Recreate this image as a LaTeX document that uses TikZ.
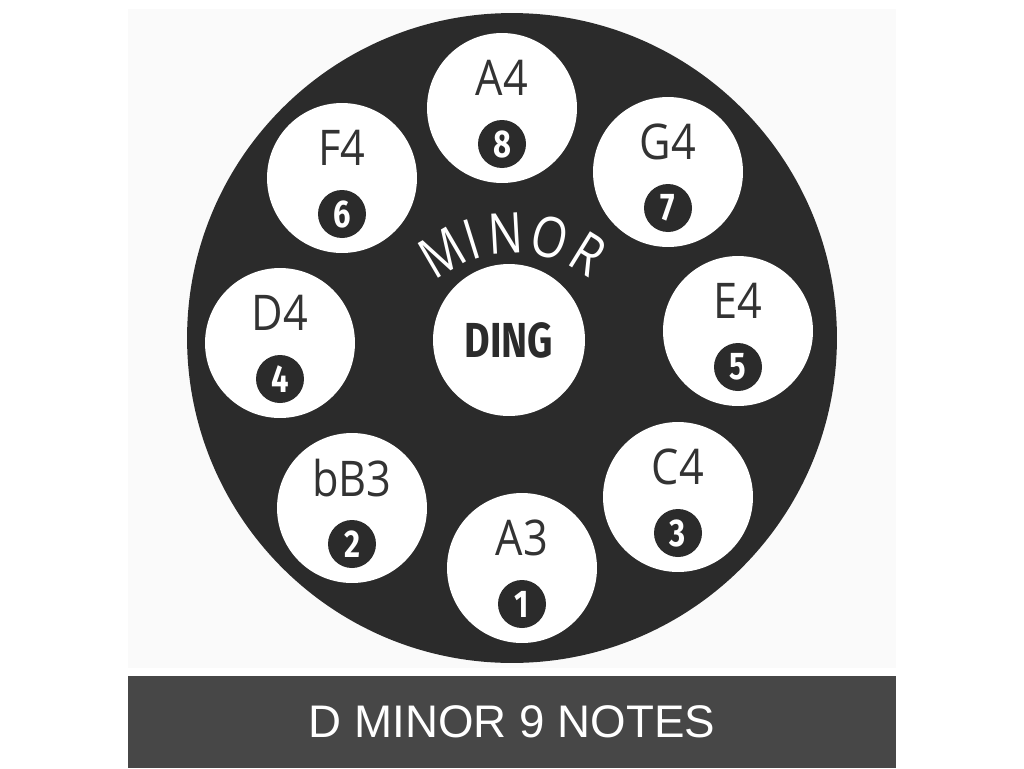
\documentclass[tikz,border=0pt]{standalone}
\usepackage{fontspec}
\setmainfont{Liberation Sans}
\newfontfamily\notefont[FakeStretch=0.88]{Open Sans}
\newfontfamily\arcfont[FakeStretch=0.82]{Open Sans}
\newfontfamily\condfont[FakeStretch=0.8]{Fira Sans}
\usetikzlibrary{calc, positioning}

\definecolor{panelgray}{HTML}{FAFAFA}
\definecolor{drumdark}{HTML}{2B2B2B}
\definecolor{notegray}{HTML}{333333}
\definecolor{bandgray}{HTML}{474747}

\begin{document}
\begin{tikzpicture}[
    x=0.02cm, y=-0.02cm,
    every node/.style={align=center, inner sep=0pt},
    pad/.style={circle, fill=white, minimum size=3cm},
    note/.style={text=notegray, font=\notefont\fontsize{28}{30}\selectfont},
    badge/.style={circle, fill=drumdark, minimum size=0.96cm, text=white,
        font=\condfont\bfseries\fontsize{22}{24}\selectfont},
    arcletter/.style={text=white, font=\arcfont\fontsize{32}{34}\selectfont},
    caption/.style={text=white, font=\fontsize{26}{30}\selectfont}
]

\useasboundingbox[fill=white] (0,0) rectangle (1024,768);

% Background
\fill[panelgray] (128,9) rectangle (896,668);
\fill[bandgray] (128,676) rectangle (896,768);
\node[circle, fill=drumdark, minimum size=13cm] (drum) at (512,338) {};

% Ding
\node[pad, minimum size=3.04cm] (ding) at (509,340) {};
\node[text=drumdark, font=\condfont\bfseries\fontsize{28}{30}\selectfont] (dingtext) at (ding) {DING};

% Tone fields
\foreach \n/\x/\y/\t/\k in {a3/522/568/A3/1, bb3/352/508/bB3/2, c4/678/497/C4/3,
    d4/280/343/D4/4, e4/738/331/E4/5, f4/342/178/F4/6, g4/668/172/G4/7, a4/502/108/A4/8} {
  \node[pad] (\n) at (\x,\y) {};
  \node[note] (\n-t) at (\x,\y-30) {\t};
  \node[badge] (\n-k) at (\x,\y+36) {\k};
}

% Arc text
\foreach \l/\a in {M/120.3, I/107.3, N/93.2, O/75.5, R/58.3}
  \node[arcletter, rotate=\a-90] (arc-\l) at ($(514,375)+(\a:2.84cm)$) {\l};

% Caption
\node[caption] (title) at (512,722) {D MINOR 9 NOTES};

\end{tikzpicture}
\end{document}
